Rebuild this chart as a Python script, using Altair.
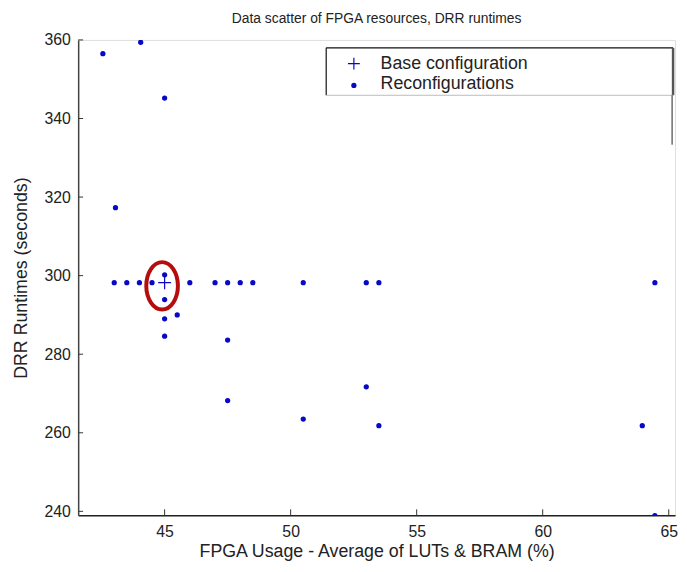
import altair as alt
import pandas as pd

# ---- data ----
recon_x = [42.55, 44.05, 45.0, 43.05,
           43.0, 43.5, 44.0, 44.5, 46.0, 47.0, 47.5, 48.0, 48.5, 50.5, 53.0, 53.5, 64.45,
           45.0, 45.0, 45.0, 45.0, 45.5,
           47.5, 47.5, 50.5, 53.0, 53.5, 63.95, 64.45]
recon_y = [356.5, 359.4, 345.2, 317.3,
           298.2, 298.2, 298.2, 298.2, 298.2, 298.2, 298.2, 298.2, 298.2, 298.2, 298.2, 298.2, 298.2,
           300.2, 293.9, 289.0, 284.6, 290.0,
           283.6, 268.2, 263.5, 271.7, 261.8, 261.8, 238.9]
base_x = [45.0]
base_y = [298.2]
highlight_x = [44.9]
highlight_y = [297.4]
x_ticks = [45, 50, 55, 60, 65]
y_ticks = [240, 260, 280, 300, 320, 340, 360]
legend_labels = ["Base configuration", "Reconfigurations"]

title = "Data scatter of FPGA resources, DRR runtimes"
x_title = "FPGA Usage - Average of LUTs & BRAM (%)"
y_title = "DRR Runtimes (seconds)"

W, H = 604, 481
XDOM = [41.57, 65.25]
YDOM = [239.0, 360.0]
BLUE = "#0808c8"
FONT = "Liberation Sans"

recon = pd.DataFrame({"x": recon_x, "y": recon_y})
base = pd.DataFrame({"x": base_x, "y": base_y})
hl = pd.DataFrame({"x": highlight_x, "y": highlight_y})
xt = pd.DataFrame({"v": x_ticks})
yt = pd.DataFrame({"v": y_ticks})

xscale = alt.Scale(domain=XDOM, nice=False, zero=False)
yscale = alt.Scale(domain=YDOM, nice=False, zero=False)

xaxis = alt.Axis(values=x_ticks, ticks=False, grid=False, labelFontSize=16, labelFont=FONT,
                 labelColor="#222", labelPadding=8, title=x_title, titleFontSize=18,
                 titleFont=FONT, titleFontWeight="normal", titleColor="#222", titlePadding=4,
                 domainColor="#222", domainWidth=1.5)
yaxis = alt.Axis(values=y_ticks, ticks=False, grid=False, labelFontSize=16, labelFont=FONT,
                 labelColor="#222", labelPadding=8, title=y_title, titleFontSize=18,
                 titleFont=FONT, titleFontWeight="normal", titleColor="#222", titlePadding=14,
                 domainColor="#444", domainWidth=1.5)

pts = alt.Chart(recon).mark_circle(size=28, color=BLUE, opacity=1, clip=True).encode(
    x=alt.X("x:Q", scale=xscale, axis=xaxis),
    y=alt.Y("y:Q", scale=yscale, axis=yaxis),
)

plus_shape = "M-1,0L1,0M0,-1L0,1"
basept = alt.Chart(base).mark_point(shape=plus_shape, size=169, color=BLUE, filled=False,
                                    strokeWidth=1.2, opacity=1).encode(
    x=alt.X("x:Q", scale=xscale), y=alt.Y("y:Q", scale=yscale))

a, b, k = 0.667, 1.0, 0.5523
ell = (f"M{a},0 C{a},{k*b} {k*a},{b} 0,{b} C{-k*a},{b} {-a},{k*b} {-a},0 "
       f"C{-a},{-k*b} {-k*a},{-b} 0,{-b} C{k*a},{-b} {a},{-k*b} {a},0 Z")
ellipse = alt.Chart(hl).mark_point(shape=ell, size=2304, color="#b50d0d", filled=False,
                                   strokeWidth=4, opacity=1).encode(
    x=alt.X("x:Q", scale=xscale), y=alt.Y("y:Q", scale=yscale))

yticks = alt.Chart(yt).mark_rule(color="#333", strokeWidth=1).encode(
    y=alt.Y("v:Q", scale=yscale), x=alt.value(0), x2=alt.value(5))
xticks = alt.Chart(xt).mark_rule(color="#333", strokeWidth=1).encode(
    x=alt.X("v:Q", scale=xscale), y=alt.value(H), y2=alt.value(H - 6))

# ---- legend box (drawn) ----
lg = pd.DataFrame({"label": legend_labels})
L, R, T, B = 251, 602, 8, 56
one = lg.head(1)
box_top = alt.Chart(one).mark_rule(color="#111", strokeWidth=1.2).encode(
    x=alt.value(L), x2=alt.value(R), y=alt.value(T))
box_left = alt.Chart(one).mark_rule(color="#111", strokeWidth=1.2).encode(
    x=alt.value(L), y=alt.value(T), y2=alt.value(B))
box_right = alt.Chart(one).mark_rule(color="#555", strokeWidth=2.5).encode(
    x=alt.value(R), y=alt.value(T), y2=alt.value(B))
box_bottom = alt.Chart(one).mark_rule(color="#bbb", strokeWidth=1).encode(
    x=alt.value(L), x2=alt.value(R), y=alt.value(B))
box_tail = alt.Chart(one).mark_rule(color="#222", strokeWidth=1).encode(
    x=alt.value(R - 1), y=alt.value(B), y2=alt.value(B + 50))

leg_text1 = alt.Chart(lg.head(1)).mark_text(align="left", baseline="middle", fontSize=18,
                                            font=FONT, color="#222").encode(
    x=alt.value(306), y=alt.value(24), text="label:N")
leg_text2 = alt.Chart(lg.tail(1)).mark_text(align="left", baseline="middle", fontSize=18,
                                            font=FONT, color="#222").encode(
    x=alt.value(306), y=alt.value(45), text="label:N")
leg_plus = alt.Chart(one).mark_point(shape=plus_shape, size=144, color=BLUE,
                                     filled=False, strokeWidth=1.2, opacity=1).encode(
    x=alt.value(279), y=alt.value(24))
leg_dot = alt.Chart(lg.tail(1)).mark_circle(size=28, color=BLUE, opacity=1).encode(
    x=alt.value(279), y=alt.value(46))

chart = alt.layer(
    pts, basept, ellipse, yticks, xticks,
    box_top, box_left, box_right, box_bottom, box_tail,
    leg_text1, leg_text2, leg_plus, leg_dot
).properties(
    width=W, height=H,
    title=alt.TitleParams(title, fontSize=14, font=FONT, fontWeight="normal",
                          color="#222", offset=6, anchor="middle"),
    autosize=alt.AutoSizeParams(type="none"),
    padding={"left": 71, "top": 29, "right": 4, "bottom": 46},
).configure_view(stroke=None).configure(background="white")

chart.save("out.html", embed_options={"renderer": "svg", "actions": False})
